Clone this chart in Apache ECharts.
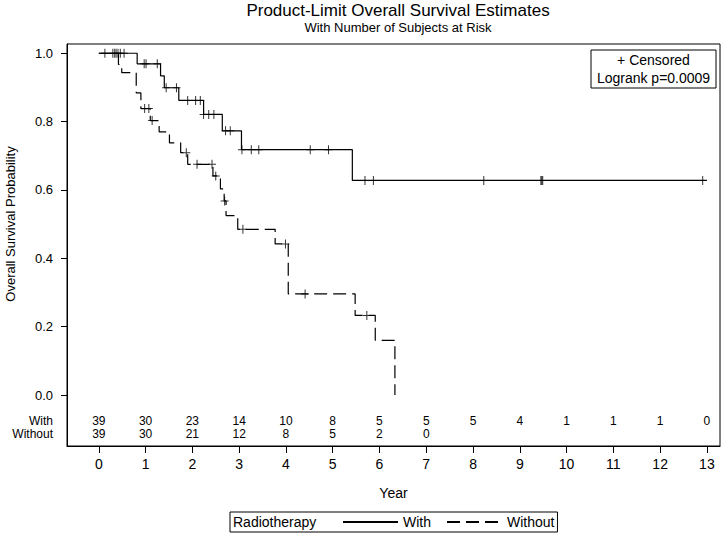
<!DOCTYPE html>
<html>
<head>
<meta charset="utf-8">
<script src="https://cdn.jsdelivr.net/npm/echarts@6/dist/echarts.min.js"></script>
<style>
html,body{margin:0;padding:0;background:#fff;}
#chart{width:724px;height:536px;}
</style>
</head>
<body>
<div id="chart"></div>
<script>
// ---- data ----
const yearTicks = [0,1,2,3,4,5,6,7,8,9,10,11,12,13];
const survTicks = [0, 0.2, 0.4, 0.6, 0.8, 1.0];

// Kaplan-Meier step points (time in years, survival)
const withTimes = [0, 0.82, 1.32, 1.40, 1.71, 2.24, 2.64, 3.05, 5.42, 13.0];
const withSurv  = [1, 0.969, 0.934, 0.899, 0.862, 0.821, 0.773, 0.718, 0.628, 0.628];
const withoutTimes = [0, 0.42, 0.49, 0.80, 0.90, 1.10, 1.29, 1.51, 1.75, 1.90, 2.44, 2.60, 2.68, 2.72, 2.97, 3.77, 4.05, 5.48, 5.91, 6.33];
const withoutSurv  = [1, 0.967, 0.943, 0.884, 0.838, 0.803, 0.770, 0.738, 0.709, 0.675, 0.641, 0.603, 0.568, 0.525, 0.485, 0.442, 0.296, 0.233, 0.160, 0];

// censored observations
const withCensTimes = [0.13, 0.30, 0.34, 0.37, 0.41, 0.46, 0.54, 0.97, 1.01, 1.25, 1.44, 1.66, 1.90, 2.07, 2.17, 2.24, 2.35, 2.46, 2.71, 2.81, 3.06, 3.26, 3.42, 4.52, 4.91, 5.69, 5.87, 8.23, 9.45, 9.47, 9.49, 12.91];
const withCensSurv  = [1, 1, 1, 1, 1, 1, 1, 0.969, 0.969, 0.969, 0.899, 0.899, 0.862, 0.862, 0.862, 0.821, 0.821, 0.821, 0.773, 0.773, 0.718, 0.718, 0.718, 0.718, 0.718, 0.628, 0.628, 0.628, 0.628, 0.628, 0.628, 0.628];
const withoutCensTimes = [0.98, 1.07, 1.14, 1.87, 2.10, 2.42, 2.50, 2.69, 3.08, 3.99, 4.41, 5.73];
const withoutCensSurv  = [0.838, 0.838, 0.803, 0.709, 0.675, 0.675, 0.641, 0.568, 0.485, 0.442, 0.296, 0.233];

// number of subjects at risk
const riskYears   = [0,1,2,3,4,5,6,7,8,9,10,11,12,13];
const riskWith    = [39,30,23,14,10,8,5,5,5,4,1,1,1,0];
const riskWithout = [39,30,21,12,8,5,2,0];
const groupNames  = ['With', 'Without'];

// ---- layout constants (not data) ----
const ROW_WITH = -0.075, ROW_WITHOUT = -0.113;
const black = '#000';
const plusPath = 'path://M3.5,0h1v9h-1zM0,4h8v1h-8z';
const narrow = 'Liberation Sans Narrow, Liberation Sans, Arial, sans-serif';

const zip = (a, b) => a.map((v, i) => [v, b[i]]);

const chart = echarts.init(document.getElementById('chart'), null, {renderer: 'svg'});

// risk table drawn as text elements placed through the axes' coordinate system
function riskSeries(name, rowY, counts) {
  return {
    name: name, type: 'custom', coordinateSystem: 'cartesian2d', silent: true,
    data: riskYears.slice(0, counts.length).map((t, i) => [t, rowY, counts[i]]),
    encode: {x: 0, y: 1},
    renderItem: function (params, api) {
      const p = api.coord([api.value(0), api.value(1)]);
      return {
        type: 'text', x: p[0], y: p[1],
        style: {text: String(api.value(2)), fill: '#000', font: '12px ' + narrow, textAlign: 'center', textVerticalAlign: 'middle'}
      };
    }
  };
}

const option = {
  animation: false,
  backgroundColor: '#fff',
  color: ['#000', '#000', '#000', '#000', '#000', '#000'],
  textStyle: {fontFamily: 'Liberation Sans, Arial, sans-serif', color: black},
  grid: {left: 67, right: 4, top: 44, bottom: 90, show: true, borderColor: black, borderWidth: 1, containLabel: false},
  xAxis: {
    type: 'value', min: -0.68, max: 13.28,
    name: 'Year', nameLocation: 'middle', nameGap: 40,
    nameTextStyle: {fontSize: 14, color: black, fontFamily: narrow},
    axisLine: {show: true, onZero: false, lineStyle: {color: black, width: 1}},
    axisTick: {show: true, length: 7, customValues: yearTicks, lineStyle: {color: black}},
    axisLabel: {customValues: yearTicks, margin: 11, fontSize: 14, color: black, fontFamily: narrow},
    splitLine: {show: false}
  },
  yAxis: {
    type: 'value', min: -0.149, max: 1.027,
    axisLine: {show: true, onZero: false, lineStyle: {color: black, width: 1}},
    axisTick: {show: true, length: 6, customValues: survTicks, lineStyle: {color: black}},
    axisLabel: {
      customValues: survTicks.concat([ROW_WITH, ROW_WITHOUT]),
      margin: 14, fontSize: 13, color: black,
      rich: {r: {fontSize: 12, lineHeight: 12, color: black}},
      formatter: function (v) {
        if (Math.abs(v - ROW_WITH) < 1e-6) return '{r|' + groupNames[0] + '}';
        if (Math.abs(v - ROW_WITHOUT) < 1e-6) return '{r|' + groupNames[1] + '}';
        return v.toFixed(1);
      }
    },
    splitLine: {show: false}
  },
  legend: {
    data: groupNames,
    left: 230, top: 512,
    orient: 'horizontal',
    itemWidth: 55, itemHeight: 14, itemGap: 15,
    padding: [3, 3, 3, 112],
    borderColor: black, borderWidth: 1,
    selectedMode: false,
    itemStyle: {opacity: 0, color: 'transparent', borderWidth: 0},
    textStyle: {fontSize: 14, color: black, fontFamily: 'Liberation Sans, Arial'}
  },
  series: [
    {
      name: groupNames[0], type: 'line', step: 'end', symbol: 'none',
      data: zip(withTimes, withSurv),
      lineStyle: {color: black, width: 1.2, type: 'solid'},
      itemStyle: {color: black}
    },
    {
      name: groupNames[1], type: 'line', step: 'end', symbol: 'none',
      data: zip(withoutTimes, withoutSurv),
      lineStyle: {color: black, width: 1.2, type: [13, 6]},
      itemStyle: {color: black}
    },
    {
      name: 'With censored', type: 'scatter', symbol: plusPath, symbolSize: [8, 9],
      data: zip(withCensTimes, withCensSurv),
      itemStyle: {color: black}, z: 3
    },
    {
      name: 'Without censored', type: 'scatter', symbol: plusPath, symbolSize: [8, 9],
      data: zip(withoutCensTimes, withoutCensSurv),
      itemStyle: {color: black}, z: 3
    },
    riskSeries('At risk With', ROW_WITH, riskWith),
    riskSeries('At risk Without', ROW_WITHOUT, riskWithout)
  ],
  graphic: [
    {type: 'text', x: 398, y: 2, style: {text: 'Product-Limit Overall Survival Estimates', font: '17px "Liberation Sans", Arial', fill: black, textAlign: 'center'}},
    {type: 'text', x: 398, y: 21, style: {text: 'With Number of Subjects at Risk', font: '13px "Liberation Sans", Arial', fill: black, textAlign: 'center'}},
    {type: 'text', x: 4, y: 224, rotation: Math.PI / 2, style: {text: 'Overall Survival Probability', font: '13px "Liberation Sans", Arial', fill: black, textAlign: 'center', textVerticalAlign: 'top'}},
    {type: 'text', x: 233, y: 515, style: {text: 'Radiotherapy', font: '14px "Liberation Sans", Arial', fill: black}},
    {type: 'rect', shape: {x: 591, y: 50, width: 125, height: 38}, style: {fill: '#fff', stroke: black, lineWidth: 1}, z: 10},
    {type: 'text', x: 653.5, y: 53, z: 11, style: {text: '+ Censored', font: '14px "Liberation Sans", Arial', fill: black, textAlign: 'center'}},
    {type: 'text', x: 653.5, y: 71, z: 11, style: {text: 'Logrank p=0.0009', font: '14px "Liberation Sans", Arial', fill: black, textAlign: 'center'}}
  ]
};
chart.setOption(option);
</script>
</body>
</html>
